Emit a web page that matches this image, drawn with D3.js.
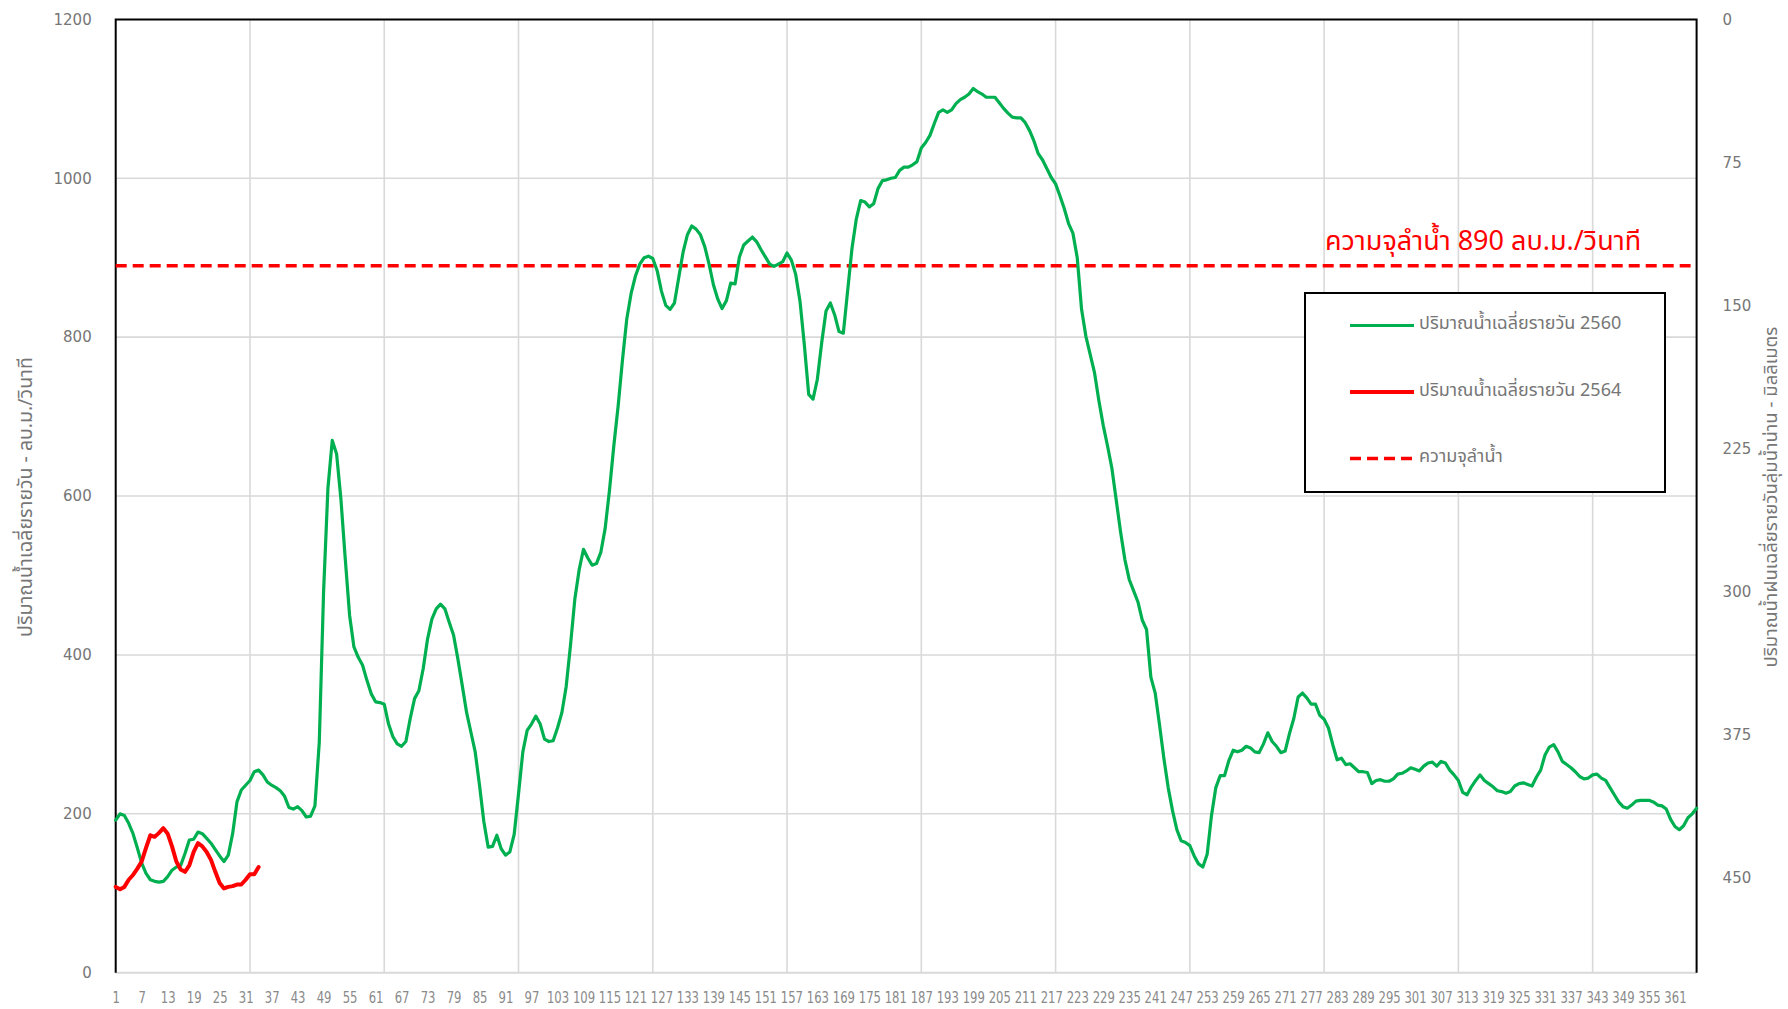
<!DOCTYPE html>
<html><head><meta charset="utf-8">
<script src="https://cdn.jsdelivr.net/npm/d3@7/dist/d3.min.js"></script>
<style>
html,body{margin:0;padding:0;background:#fff;}
svg{display:block;}
</style></head>
<body>
<script>
// ---------- DATA ----------
const flow2560 = [192,200,198,188,175,157,138,125,117,115,114,115,121,129,133,135,150,167,168,177,
175,169,163,155,147,140,148,175,215,230,236,242,253,255,249,240,236,233,229,222,
208,206,209,204,196,197,210,290,480,610,670,653,596,521,450,410,397,387,368,351,
341,340,338,313,297,288,285,291,320,345,355,383,420,445,458,464,458,441,425,395,
362,328,303,278,236,190,158,159,173,156,148,152,174,225,278,305,313,323,313,294,
291,292,308,327,360,412,470,507,533,522,513,515,529,559,607,663,713,771,823,855,
877,892,900,902,899,884,858,840,835,843,875,907,929,940,936,929,914,892,866,848,
836,846,868,867,901,916,921,926,920,910,901,892,889,892,895,906,897,879,845,790,
728,722,747,793,833,843,828,807,805,859,912,949,972,970,964,968,987,997,998,1000,
1001,1010,1014,1014,1017,1021,1038,1045,1054,1069,1083,1086,1083,1086,1094,1099,1102,1106,1113,1109,
1106,1102,1102,1102,1095,1088,1082,1077,1076,1076,1070,1060,1047,1031,1023,1012,1001,993,978,962,
943,931,900,835,801,778,755,720,689,663,635,595,555,520,495,481,467,444,432,372,
352,312,270,233,204,180,166,164,160,147,137,133,149,198,233,248,248,267,280,278,
280,285,283,278,277,288,302,291,285,277,279,301,320,347,352,346,338,338,324,319,
308,287,268,270,262,263,258,253,253,252,238,242,243,241,241,244,250,251,254,258,
256,254,260,264,265,260,266,264,255,249,242,227,224,234,242,249,242,238,234,229,
228,226,228,235,238,239,237,235,246,255,274,284,287,278,266,262,258,253,247,244,
245,249,250,245,242,233,224,215,209,207,211,216,217,217,217,215,211,210,206,193,
184,180,185,195,200,207];
const flow2564 = [108,105,108,117,123,131,140,157,173,171,176,182,175,159,140,130,127,135,152,163,
159,152,142,127,113,106,108,109,111,111,117,124,124,133];
const capacity = 890;
const days = d3.range(1, flow2560.length + 1);
const leftTicks = [0,200,400,600,800,1000,1200];
const rightTicks = [0,75,150,225,300,375,450];
const xLabelDays = d3.range(1, 362, 6);
const gridDays = d3.range(32, 367, 31);
const seriesNames = ["ปริมาณน้ำเฉลี่ยรายวัน 2560","ปริมาณน้ำเฉลี่ยรายวัน 2564","ความจุลำน้ำ"];
const leftTitle = "ปริมาณน้ำเฉลี่ยรายวัน - ลบ.ม./วินาที";
const rightTitle = "ปริมาณน้ำฝนเฉลี่ยรายวันลุ่มน้ำน่าน - มิลลิเมตร";
const capLabel = "ความจุลำน้ำ 890 ลบ.ม./วินาที";

// ---------- LAYOUT ----------
const W = 1788, H = 1009;
const L = 115.7, R = 1696.6, T = 19.4, B = 972.7;
const GREEN = "#00B050", RED = "#FF0000", GRID = "#D9D9D9", TXT = "#767676";
const thaiFont = "'Noto Sans Thai','Leelawadee UI',Tahoma,'Noto Sans',sans-serif";
const numFont = "'DejaVu Sans',Verdana,sans-serif";

const svg = d3.select("body").append("svg").attr("width", W).attr("height", H);

const x = d3.scalePoint().domain(days).range([L, R]);
const y = d3.scaleLinear().domain([0, 1200]).range([B, T]);
const y2 = d3.scaleLinear().domain([0, 500]).range([T, B]);

// gridlines
svg.append("g").selectAll("line").data(leftTicks.filter(v => v > 0 && v < 1200)).join("line")
  .attr("x1", L).attr("x2", R).attr("y1", d => y(d)).attr("y2", d => y(d))
  .attr("stroke", GRID).attr("stroke-width", 1.6);
svg.append("g").selectAll("line").data(gridDays).join("line")
  .attr("x1", d => x(d)).attr("x2", d => x(d)).attr("y1", T).attr("y2", B)
  .attr("stroke", GRID).attr("stroke-width", 1.6);

// axes (left)
const gl = svg.append("g").attr("transform", `translate(${L},0)`)
  .call(d3.axisLeft(y).tickValues(leftTicks).tickFormat(d3.format("d")).tickSize(0).tickPadding(24));
gl.select(".domain").remove();
gl.selectAll("text").attr("font-family", numFont).attr("font-size", 15).attr("fill", TXT);

// axes (right)
const gr = svg.append("g").attr("transform", `translate(${R},0)`)
  .call(d3.axisRight(y2).tickValues(rightTicks).tickFormat(d3.format("d")).tickSize(0).tickPadding(26));
gr.select(".domain").remove();
gr.selectAll("text").attr("font-family", numFont).attr("font-size", 15).attr("fill", TXT);

// x axis
const gx = svg.append("g").attr("transform", `translate(0,${B})`)
  .call(d3.axisBottom(x).tickValues(xLabelDays).tickFormat(d3.format("d")).tickSize(0).tickPadding(20));
gx.select(".domain").remove();
gx.selectAll("text").attr("font-family", numFont).attr("font-size", 15).attr("fill", "#8a8a8a")
  .attr("textLength", d => String(d).length * 7.4).attr("lengthAdjust", "spacingAndGlyphs");

// frame
svg.append("line").attr("x1", L).attr("x2", R).attr("y1", B).attr("y2", B).attr("stroke", GRID).attr("stroke-width", 2);
svg.append("path").attr("d", `M${L},${B}V${T}H${R}V${B}`).attr("fill", "none").attr("stroke", "#000").attr("stroke-width", 2);

// capacity line
svg.append("line").attr("x1", x(days[0])).attr("x2", x(days[days.length - 1]) - 6)
  .attr("y1", y(capacity)).attr("y2", y(capacity))
  .attr("stroke", RED).attr("stroke-width", 3.5).attr("stroke-dasharray", "11,6");

// series
const line = d3.line().x((d, i) => x(days[i])).y(d => y(d));
svg.append("path").datum(flow2560).attr("d", line).attr("fill", "none")
  .attr("stroke", GREEN).attr("stroke-width", 3.2).attr("stroke-linejoin", "round").attr("stroke-linecap", "round");
svg.append("path").datum(flow2564).attr("d", line).attr("fill", "none")
  .attr("stroke", RED).attr("stroke-width", 4).attr("stroke-linejoin", "round").attr("stroke-linecap", "round");

// capacity label
svg.append("text").attr("x", 1325).attr("y", 250).text(capLabel)
  .attr("font-family", thaiFont).attr("font-size", 27).attr("fill", RED);

// legend
const lg = svg.append("g");
lg.append("rect").attr("x", 1305).attr("y", 293).attr("width", 360).attr("height", 199)
  .attr("fill", "#fff").attr("stroke", "#000").attr("stroke-width", 2);
const legItems = [
  {name: seriesNames[0], color: GREEN, dash: null, w: 3.2, yy: 325.5},
  {name: seriesNames[1], color: RED, dash: null, w: 4, yy: 392},
  {name: seriesNames[2], color: RED, dash: "11,6", w: 3.5, yy: 458.5}
];
legItems.forEach(it => {
  lg.append("line").attr("x1", 1350).attr("x2", 1414).attr("y1", it.yy).attr("y2", it.yy)
    .attr("stroke", it.color).attr("stroke-width", it.w).attr("stroke-dasharray", it.dash);
  lg.append("text").attr("x", 1419).attr("y", it.yy + 3.5).text(it.name)
    .attr("font-family", thaiFont).attr("font-size", 18).attr("fill", TXT);
});

// axis titles
svg.append("text").attr("transform", `translate(25,497) rotate(-90)`).attr("text-anchor", "middle")
  .attr("dy", "0.35em").text(leftTitle).attr("font-family", thaiFont).attr("font-size", 19.5).attr("fill", TXT);
svg.append("text").attr("transform", `translate(1771,497) rotate(-90)`).attr("text-anchor", "middle")
  .attr("dy", "0.3em").text(rightTitle).attr("font-family", thaiFont).attr("font-size", 18.5).attr("fill", TXT);
</script>
</body></html>
